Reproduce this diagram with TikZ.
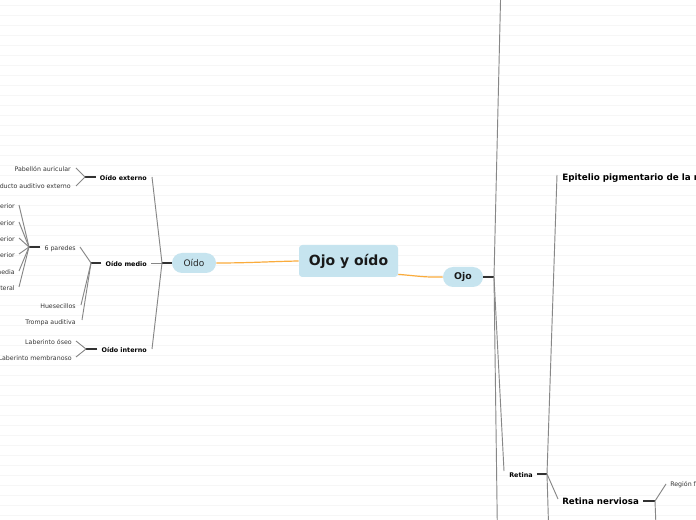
\documentclass[tikz,border=0pt]{standalone}
\usepackage{fontspec}
\setmainfont{DejaVu Sans}
\usetikzlibrary{calc}
\definecolor{nodeblue}{RGB}{198,228,239}
\definecolor{orangeline}{RGB}{250,172,60}
\definecolor{branchgrey}{RGB}{135,135,135}
\definecolor{stubdark}{RGB}{50,50,50}
\definecolor{bgline}{RGB}{246,246,246}
\definecolor{leafgrey}{RGB}{55,55,55}
\tikzset{
  bgrule/.style={draw=bgline, line width=0.6pt},
  rootbox/.style={fill=nodeblue, rounded corners=2.5pt, inner sep=0pt, minimum width=74.25pt, minimum height=24pt, font=\bfseries\fontsize{10.5}{12}\selectfont, text=black!90},
  pill/.style={fill=nodeblue, rounded corners=7.5pt, inner sep=0pt, minimum height=15pt},
  orangeconn/.style={draw=orangeline, line width=0.9pt},
  branch/.style={draw=branchgrey, line width=0.7pt},
  stub/.style={draw=stubdark, line width=0.9pt},
  leaf/.style={inner sep=0pt, text=leafgrey, font=\fontsize{4.7}{5.5}\selectfont},
  subtopic/.style={inner sep=0pt, text=black, font=\bfseries\fontsize{4.8}{5.5}\selectfont},
  bigtopic/.style={inner sep=0pt, text=black, font=\bfseries\fontsize{6.5}{7.5}\selectfont},
}
\begin{document}
\begin{tikzpicture}[x=0.75pt,y=-0.75pt]
\useasboundingbox (0,0) rectangle (696,520);
\clip (0,0) rectangle (696,520);
\fill[white] (0,0) rectangle (696,520);
\foreach \k in {0,...,51} \draw[bgrule] (0,5+10*\k) -- (696,5+10*\k);

% main nodes
\node[rootbox] (root) at (348.5,261) {Ojo y oído};
\node[pill, minimum width=33pt, font=\fontsize{6.75}{8}\selectfont, text=black!85] (oido) at (194,263) {Oído};
\node[pill, minimum width=30pt, font=\bfseries\fontsize{7}{8}\selectfont, text=black!90] (ojo) at (463,277) {Ojo};

\draw[orangeconn] (oido.east) .. controls (250,263) and (270,261.5) .. (root.west);
\draw[orangeconn] (root.-15) .. controls (418,276) and (425,277.5) .. (ojo.west);

% ---------- Ojo side ----------
\coordinate (ojoJ) at (494,277);
\coordinate (ojoTop) at (501,-20);
\coordinate (ojoBot) at (497.5,540);
\coordinate (retW) at (504,471);
\draw[stub] (ojo.east) -- (ojoJ);
\draw[branch] (ojoJ) -- (ojoTop);
\draw[branch] (ojoJ) -- (ojoBot);
\draw[branch] (ojoJ) -- (retW);

\node[subtopic, anchor=mid west] (retina) at (509,474) {Retina};
\coordinate (retJ) at (547,474);
\draw[stub] ($(retina.mid east)+(4,0)$) -- (retJ);

\node[bigtopic, font=\bfseries\fontsize{6.6}{7.5}\selectfont, anchor=mid west] (epi) at (562,177) {Epitelio pigmentario de la retina};
\node[bigtopic, anchor=mid west] (rn) at (562,501) {Retina nerviosa};
\coordinate (epiW) at (557,175);
\coordinate (rnW) at (558,499);
\coordinate (retBot) at (549,540);
\draw[branch] (retJ) -- (epiW);
\draw[branch] (retJ) -- (rnW);
\draw[branch] (retJ) -- (retBot);

\coordinate (rnJ) at (655,501);
\draw[stub] ($(rn.mid east)+(4,0)$) -- (rnJ);
\node[leaf, anchor=mid west] (reg) at (670,483) {Región fotosensible};
\coordinate (regW) at (666,484);
\coordinate (rnBot) at (656.5,540);
\draw[branch] (rnJ) -- (regW);
\draw[branch] (rnJ) -- (rnBot);

% ---------- Oído side ----------
\coordinate (oidoJ) at (162,263);
\draw[stub] (oido.west) -- (oidoJ);
\node[subtopic, anchor=mid east] (ext) at (147,177) {Oído externo};
\node[subtopic, anchor=mid east] (med) at (147,263) {Oído medio};
\node[subtopic, anchor=mid east] (int) at (147,349) {Oído interno};
\coordinate (extE) at (152,177);
\coordinate (medE) at (151,263);
\coordinate (intE) at (152,349);
\draw[branch] (oidoJ) -- (extE);
\draw[branch] (oidoJ) -- (medE);
\draw[branch] (oidoJ) -- (intE);

% Oído externo
\coordinate (extJ) at (85,177);
\draw[stub] ($(ext.mid west)+(-4,0)$) -- (extJ);
\node[leaf, anchor=mid east] (pab) at (71,168) {Pabellón auricular};
\node[leaf, anchor=mid east] (cond) at (71,185) {Conducto auditivo externo};
\coordinate (pabE) at (76,168);
\coordinate (condE) at (76,186);
\draw[branch] (extJ) -- (pabE);
\draw[branch] (extJ) -- (condE);

% Oído medio
\coordinate (medJ) at (91,263);
\draw[stub] ($(med.mid west)+(-4,0)$) -- (medJ);
\node[leaf, anchor=mid east] (par) at (76,247) {6 paredes};
\node[leaf, anchor=mid east] (hue) at (76,305) {Huesecillos};
\node[leaf, anchor=mid east] (tro) at (76,321) {Trompa auditiva};
\coordinate (parE) at (80,247);
\coordinate (hueE) at (81,305);
\coordinate (troE) at (82,320);
\draw[branch] (medJ) -- (parE);
\draw[branch] (medJ) -- (hueE);
\draw[branch] (medJ) -- (troE);

% 6 paredes
\coordinate (parJ) at (29,247);
\draw[stub] ($(par.mid west)+(-4,0)$) -- (parJ);
\node[leaf, anchor=mid east] (p1) at (15,205) {Pared superior};
\node[leaf, anchor=mid east] (p2) at (15,222) {Pared inferior};
\node[leaf, anchor=mid east] (p3) at (15,238) {Pared anterior};
\node[leaf, anchor=mid east] (p4) at (15,254) {Pared posterior};
\node[leaf, anchor=mid east] (p5) at (15,271) {Pared media};
\node[leaf, anchor=mid east] (p6) at (15,287) {Pared lateral};
\coordinate (p1E) at (19,205);
\coordinate (p2E) at (19,222);
\coordinate (p3E) at (19,238);
\coordinate (p4E) at (19,254);
\coordinate (p5E) at (19,271);
\coordinate (p6E) at (19,287);
\foreach \c in {p1E,p2E,p3E,p4E,p5E,p6E} \draw[branch] (parJ) -- (\c);

% Oído interno
\coordinate (intJ) at (86,349);
\draw[stub] ($(int.mid west)+(-4,0)$) -- (intJ);
\node[leaf, anchor=mid east] (lo) at (72,341) {Laberinto óseo};
\node[leaf, anchor=mid east] (lm) at (72,357) {Laberinto membranoso};
\coordinate (loE) at (76,341);
\coordinate (lmE) at (76,357);
\draw[branch] (intJ) -- (loE);
\draw[branch] (intJ) -- (lmE);
\end{tikzpicture}
\end{document}
